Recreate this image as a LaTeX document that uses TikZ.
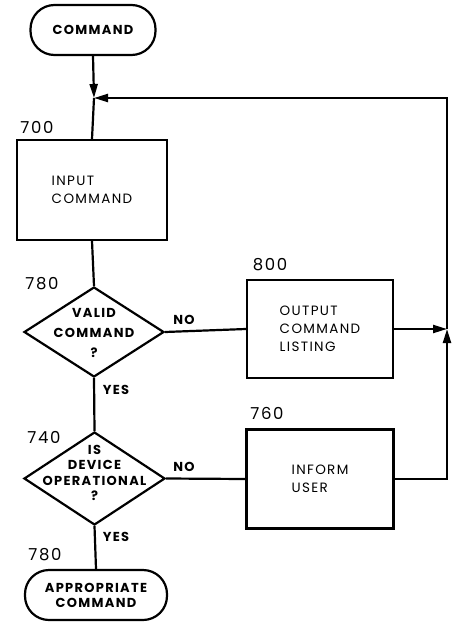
\documentclass[tikz,border=0pt]{standalone}
\usepackage{fontspec}
\setmainfont{Poppins}[LetterSpace=10]
\usetikzlibrary{shapes.geometric,arrows.meta}
\tikzset{
  base/.style={line width=2.2pt},
  term/.style={base,draw,rectangle,rounded corners=24pt,inner sep=0pt,font=\fontsize{13}{15}\selectfont\bfseries,align=center},
  procbox/.style={base,draw,rectangle,inner sep=0pt,font=\fontsize{13.5}{18}\selectfont,align=left},
  decision/.style={base,draw,diamond,inner sep=0pt},
  dtext/.style={font=\fontsize{13}{15.5}\selectfont\bfseries,align=center,inner sep=0pt},
  num/.style={font=\fontsize{16.5}{17}\selectfont,inner sep=0pt},
  yn/.style={font=\fontsize{13}{14}\selectfont\bfseries,inner sep=0pt},
  flow/.style={base,-{Triangle[length=14pt,width=8pt]}},
  line/.style={base}
}
\begin{document}
\begin{tikzpicture}[x=1pt,y=-1pt]
\useasboundingbox (0,0) rectangle (458,623);
% nodes
\node[term,minimum width=125pt,minimum height=50pt] (cmd) at (93,30) {COMMAND};
\node[procbox,minimum width=150pt,minimum height=100pt] (in) at (92,190) {INPUT\\COMMAND};
\node[decision,minimum width=140pt,minimum height=90pt,shape aspect=1.55] (valid) at (94,332) {};
\node[dtext,font=\fontsize{13}{20}\selectfont\bfseries] (validt) at (94,333) {VALID\\COMMAND\\?};
\node[procbox,minimum width=146pt,minimum height=98pt] (outp) at (320,329) {OUTPUT\\COMMAND\\LISTING};
\node[decision,minimum width=141pt,minimum height=93pt,shape aspect=1.52] (dev) at (94.5,478.5) {};
\node[dtext] (devt) at (94.5,473) {IS\\DEVICE\\OPERATIONAL\\?};
\node[procbox,minimum width=147pt,minimum height=99pt] (inform) at (320,479) {INFORM\\USER};
\node[term,minimum width=142pt,minimum height=50pt] (app) at (96,595) {APPROPRIATE\\COMMAND};
% numbers
\node[num] (n700) at (37,127) {700};
\node[num] (n780a) at (42,284) {780};
\node[num] (n800) at (270,265) {800};
\node[num] (n760) at (267,413) {760};
\node[num] (n740) at (44,437) {740};
\node[num] (n780b) at (45,555) {780};
% yes/no
\node[yn] (no1) at (184,320) {NO};
\node[yn] (no2) at (184,467) {NO};
\node[yn] (yes1) at (116,390) {YES};
\node[yn] (yes2) at (116,537) {YES};
% coordinates
\coordinate (j1) at (94,98);
\coordinate (r1) at (447,98);
\coordinate (r2) at (447,329);
\coordinate (r3) at (447,479);
% connectors
\draw[flow] (cmd.south) -- (j1);
\draw[line] (j1) -- (in.north);
\draw[line] (in.south) -- (valid.north);
\draw[line] (valid.east) -- (outp.west);
\draw[line] (valid.south) -- (dev.north);
\draw[line] (dev.east) -- (inform.west);
\draw[line] (dev.south) -- (app.north);
\draw[flow] (outp.east) -- (r2);
\draw[flow] (inform.east) -- (r3) -- (r2);
\draw[flow] (r2) -- (r1) -- (j1);
\end{tikzpicture}
\end{document}
